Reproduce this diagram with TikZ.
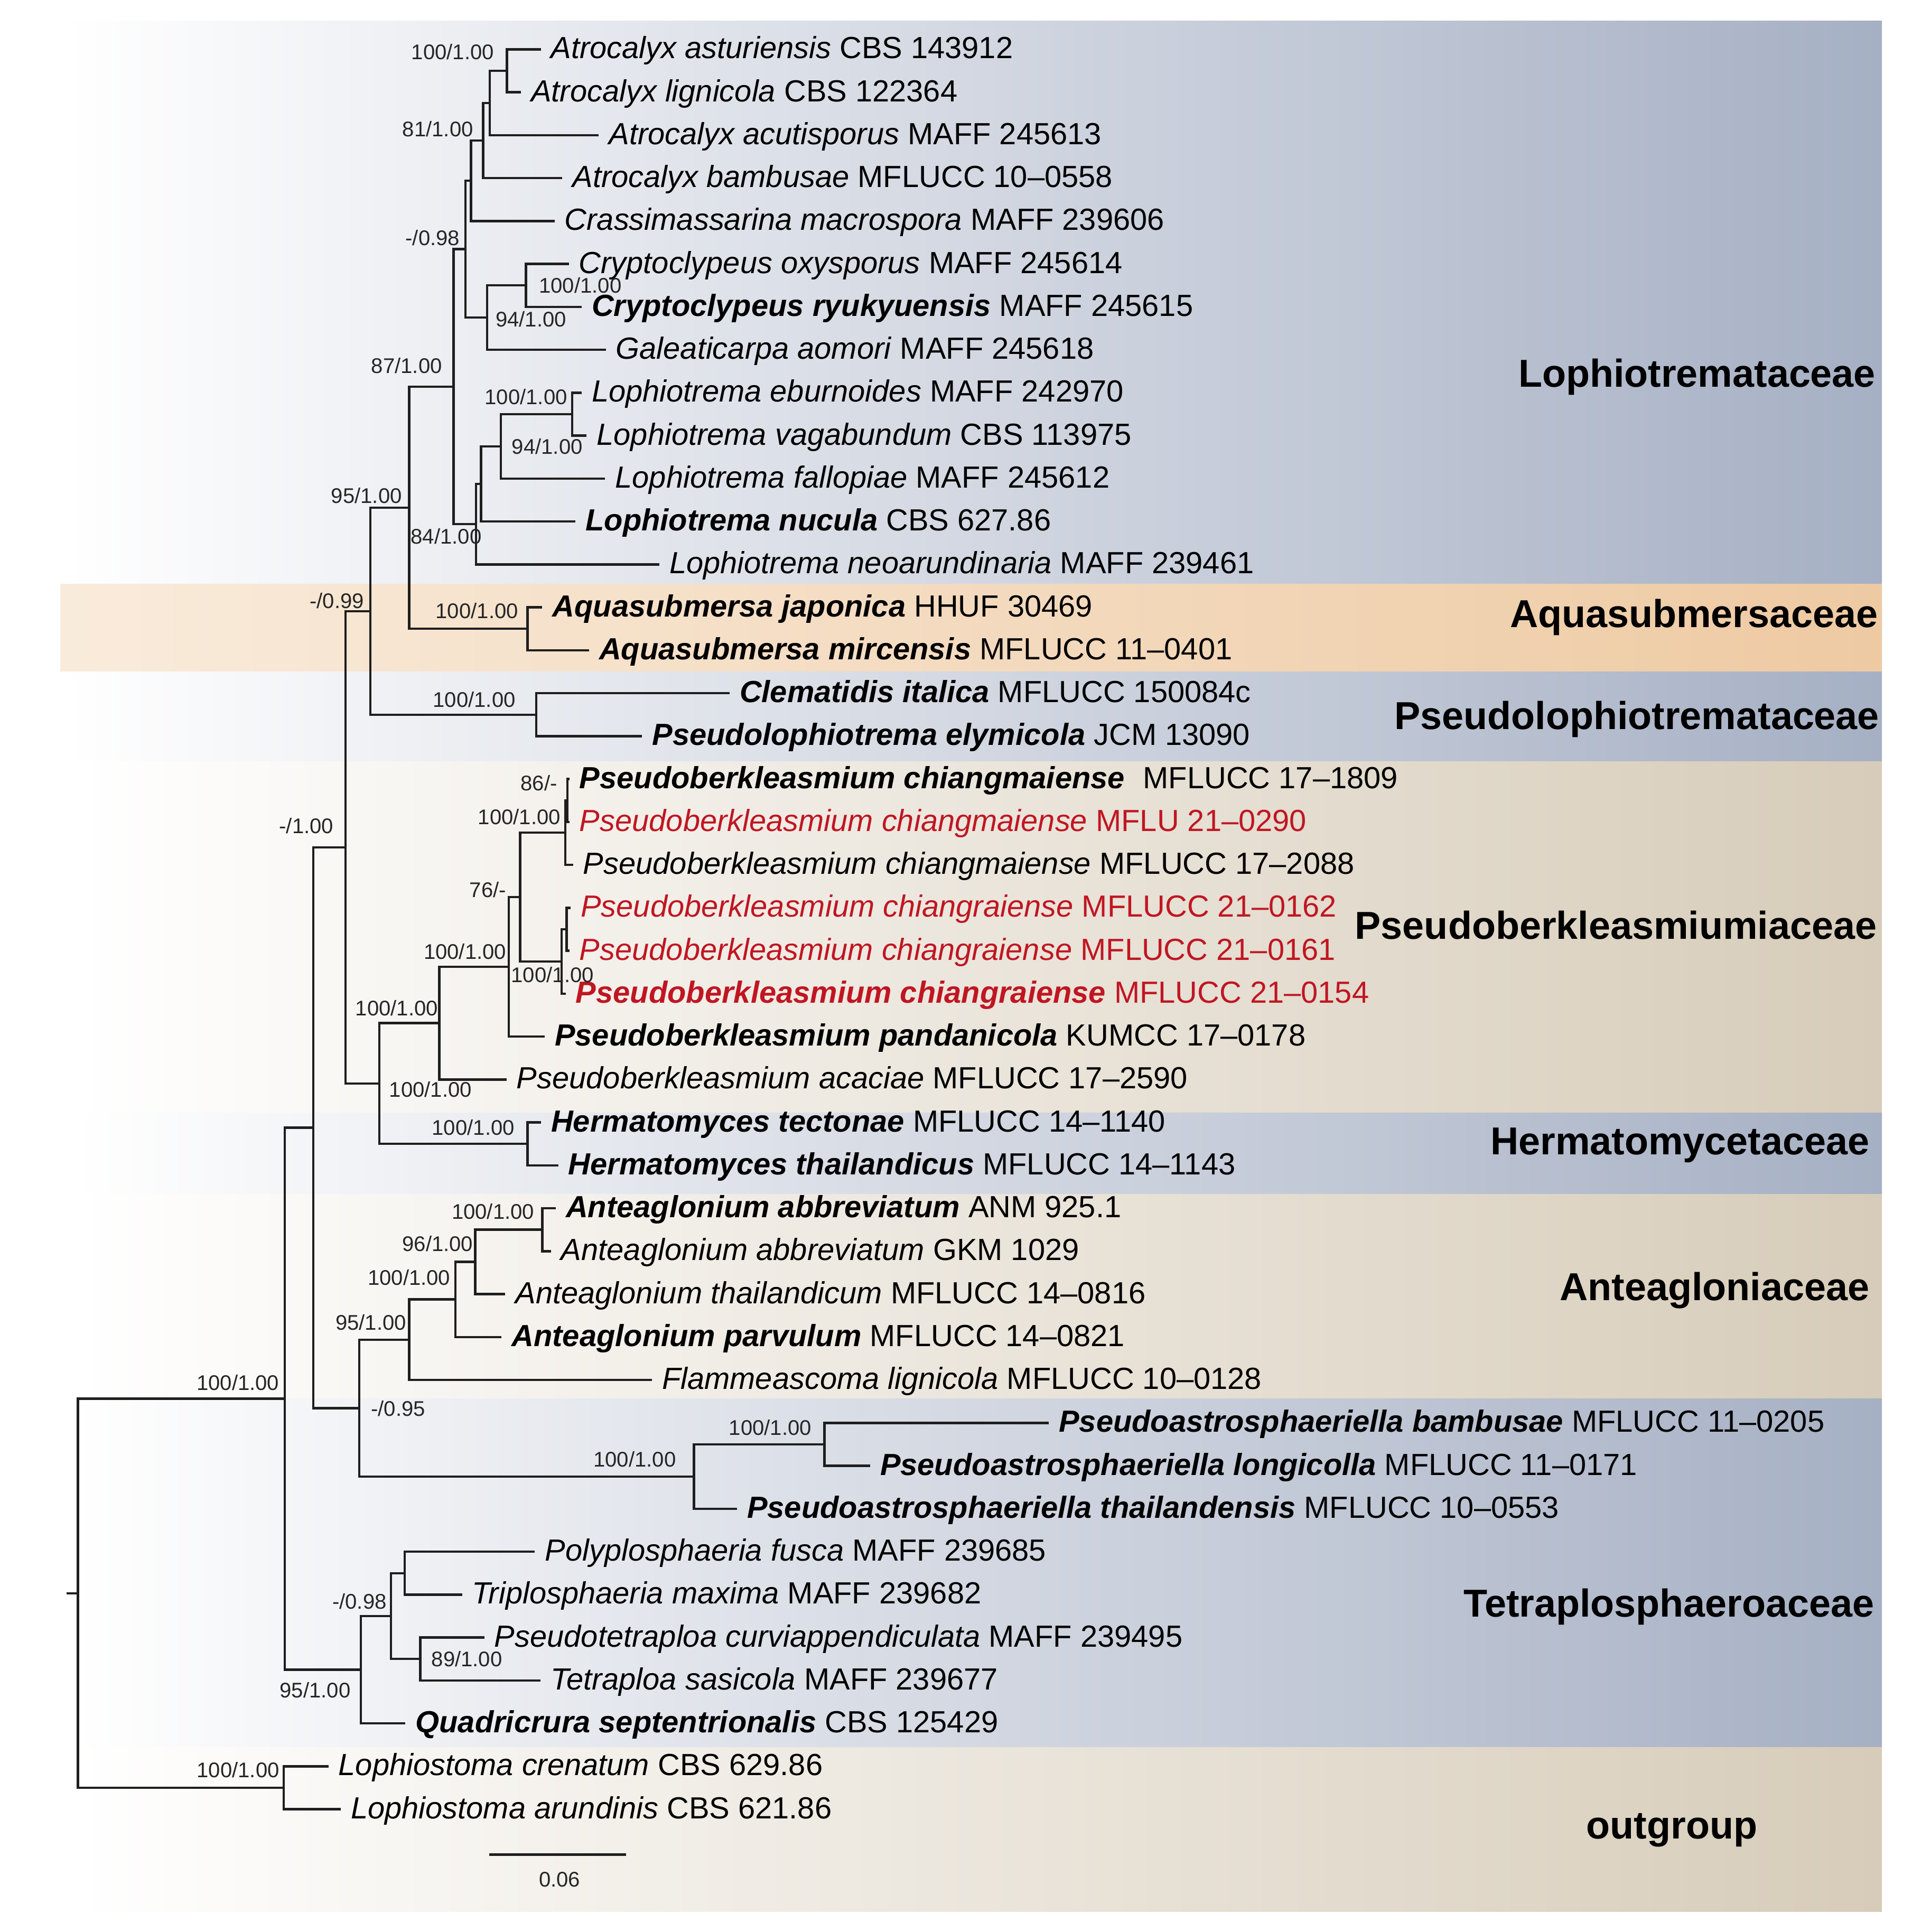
\documentclass[tikz,border=0pt]{standalone}
\usepackage{fontspec}
\setmainfont{Liberation Sans}
\definecolor{bandblue}{RGB}{166,176,196}
\definecolor{bandbeige}{RGB}{215,204,185}
\definecolor{bandorL}{RGB}{249,235,219}
\definecolor{bandorR}{RGB}{238,202,163}
\definecolor{pbred}{RGB}{192,22,34}
\definecolor{brcol}{RGB}{30,30,30}
\newcommand{\mytip}[4]{\coordinate (#1) at (#2,#3); \node[tiplab] (L#1) at ([xshift=8pt,yshift=-7.5pt]#1) {#4};}
\begin{document}
\begin{tikzpicture}[x=1pt,y=-1pt,
  tiplab/.style={font=\fontsize{24.8}{29}\selectfont, inner sep=0pt, anchor=base west, text=black},
  suplab/.style={font=\fontsize{17.2}{20}\selectfont, inner sep=0pt, text=black!85},
  famlab/.style={font=\bfseries\fontsize{31.6}{36}\selectfont, inner sep=0pt, anchor=base east, text=black},
  br/.style={draw=brcol, line width=1.9pt}]
\useasboundingbox (0,0) rectangle (1551,1567.7);
% background bands
\shade[left color=white, right color=bandblue] (50,17) rectangle (1527,474);
\shade[left color=bandorL, right color=bandorR] (49,474) rectangle (1527,545);
\shade[left color=white, right color=bandblue] (50,545) rectangle (1527,618);
\shade[left color=white, right color=bandbeige] (61,618) rectangle (1527,903);
\shade[left color=white, right color=bandblue] (61,903) rectangle (1527,969);
\shade[left color=white, right color=bandbeige] (61,969) rectangle (1527,1135);
\shade[left color=white, right color=bandblue] (61,1135) rectangle (1527,1418);
\shade[left color=white, right color=bandbeige] (61,1418) rectangle (1527,1551);

% tips
\mytip{t1}{438.8}{40.0}{\textit{Atrocalyx asturiensis} CBS 143912}
\mytip{t2}{422.7}{74.83}{\textit{Atrocalyx lignicola} CBS 122364}
\mytip{t3}{485.9}{109.66}{\textit{Atrocalyx acutisporus} MAFF 245613}
\mytip{t4}{456.3}{144.49}{\textit{Atrocalyx bambusae} MFLUCC 10–0558}
\mytip{t5}{450}{179.32}{\textit{Crassimassarina macrospora} MAFF 239606}
\mytip{t6}{461.5}{214.15}{\textit{Cryptoclypeus oxysporus} MAFF 245614}
\mytip{t7}{472}{248.98}{\textbf{\textit{Cryptoclypeus ryukyuensis}} MAFF 245615}
\mytip{t8}{491.5}{283.81}{\textit{Galeaticarpa aomori} MAFF 245618}
\mytip{t9}{472}{318.64}{\textit{Lophiotrema eburnoides} MAFF 242970}
\mytip{t10}{476}{353.47}{\textit{Lophiotrema vagabundum} CBS 113975}
\mytip{t11}{491}{388.30}{\textit{Lophiotrema fallopiae} MAFF 245612}
\mytip{t12}{467}{423.13}{\textbf{\textit{Lophiotrema nucula}} CBS 627.86}
\mytip{t13}{535}{457.96}{\textit{Lophiotrema neoarundinaria} MAFF 239461}
\mytip{t14}{440}{492.79}{\textbf{\textit{Aquasubmersa japonica}} HHUF 30469}
\mytip{t15}{478}{527.62}{\textbf{\textit{Aquasubmersa mircensis}} MFLUCC 11–0401}
\mytip{t16}{592}{562.45}{\textbf{\textit{Clematidis italica}} MFLUCC 150084c}
\mytip{t17}{521}{597.28}{\textbf{\textit{Pseudolophiotrema elymicola}} JCM 13090}
\mytip{t18}{462}{632.11}{\textbf{\textit{Pseudoberkleasmium chiangmaiense}}\hspace{8pt} MFLUCC 17–1809}
\mytip{t19}{462}{666.94}{\color{pbred}\textit{Pseudoberkleasmium chiangmaiense} MFLU 21–0290}
\mytip{t20}{465}{701.77}{\textit{Pseudoberkleasmium chiangmaiense} MFLUCC 17–2088}
\mytip{t21}{463}{736.60}{\color{pbred}\textit{Pseudoberkleasmium chiangraiense} MFLUCC 21–0162}
\mytip{t22}{462}{771.43}{\color{pbred}\textit{Pseudoberkleasmium chiangraiense} MFLUCC 21–0161}
\mytip{t23}{459}{806.26}{\color{pbred}\textbf{\textit{Pseudoberkleasmium chiangraiense}} MFLUCC 21–0154}
\mytip{t24}{442}{841.09}{\textbf{\textit{Pseudoberkleasmium pandanicola}} KUMCC 17–0178}
\mytip{t25}{411}{875.92}{\textit{Pseudoberkleasmium acaciae} MFLUCC 17–2590}
\mytip{t26}{439}{910.75}{\textbf{\textit{Hermatomyces tectonae}} MFLUCC 14–1140}
\mytip{t27}{453}{945.58}{\textbf{\textit{Hermatomyces thailandicus}} MFLUCC 14–1143}
\mytip{t28}{451}{980.41}{\textbf{\textit{Anteaglonium abbreviatum}} ANM 925.1}
\mytip{t29}{447}{1015.24}{\textit{Anteaglonium abbreviatum} GKM 1029}
\mytip{t30}{410}{1050.07}{\textit{Anteaglonium thailandicum} MFLUCC 14–0816}
\mytip{t31}{407}{1084.90}{\textbf{\textit{Anteaglonium parvulum}} MFLUCC 14–0821}
\mytip{t32}{529}{1119.73}{\textit{Flammeascoma lignicola} MFLUCC 10–0128}
\mytip{t33}{851}{1154.56}{\textbf{\textit{Pseudoastrosphaeriella bambusae}} MFLUCC 11–0205}
\mytip{t34}{706}{1189.39}{\textbf{\textit{Pseudoastrosphaeriella longicolla}} MFLUCC 11–0171}
\mytip{t35}{598}{1224.22}{\textbf{\textit{Pseudoastrosphaeriella thailandensis}} MFLUCC 10–0553}
\mytip{t36}{434}{1259.05}{\textit{Polyplosphaeria fusca} MAFF 239685}
\mytip{t37}{375}{1293.88}{\textit{Triplosphaeria maxima} MAFF 239682}
\mytip{t38}{393}{1328.71}{\textit{Pseudotetraploa curviappendiculata} MAFF 239495}
\mytip{t39}{438.5}{1363.54}{\textit{Tetraploa sasicola} MAFF 239677}
\mytip{t40}{329}{1398.37}{\textbf{\textit{Quadricrura septentrionalis}} CBS 125429}
\mytip{t41}{266.5}{1433.20}{\textit{Lophiostoma crenatum} CBS 629.86}
\mytip{t42}{276.5}{1468.03}{\textit{Lophiostoma arundinis} CBS 621.86}

% internal nodes
\coordinate (A) at (411.3,57.4);
\coordinate (B) at (397.3,83.5);
\coordinate (C) at (392.1,114.0);
\coordinate (D) at (382.2,146.7);
\coordinate (F) at (426.8,231.6);
\coordinate (G) at (395.3,257.7);
\coordinate (E) at (377.6,202.2);
\coordinate (Ln) at (464.2,336.1);
\coordinate (K) at (406.3,362.2);
\coordinate (J) at (390.3,392.7);
\coordinate (I) at (386.3,425.3);
\coordinate (H) at (368.1,313.8);
\coordinate (P) at (428,510.2);
\coordinate (M) at (332,412.0);
\coordinate (R) at (435.2,579.9);
\coordinate (N) at (300.5,496.0);
\coordinate (AA) at (460.5,649.5);
\coordinate (Y) at (458.6,675.6);
\coordinate (BB) at (459.7,754.0);
\coordinate (Z) at (455.8,780.1);
\coordinate (X) at (422,727.9);
\coordinate (W) at (412.7,784.5);
\coordinate (V) at (356.5,830.2);
\coordinate (CC) at (428,928.2);
\coordinate (T) at (307.7,879.2);
\coordinate (Q) at (280.4,687.6);
\coordinate (KK) at (440,997.8);
\coordinate (JJ) at (385.6,1023.9);
\coordinate (II) at (369.4,1054.4);
\coordinate (GG) at (332,1087.1);
\coordinate (LL) at (669,1172.0);
\coordinate (HH) at (563,1198.1);
\coordinate (EE) at (291.4,1142.6);
\coordinate (S) at (254.2,915.1);
\coordinate (OO) at (328.3,1276.5);
\coordinate (PP) at (341,1346.1);
\coordinate (NN) at (317.3,1311.3);
\coordinate (FF) at (292.7,1354.8);
\coordinate (DD) at (231,1135.0);
\coordinate (MM) at (230.3,1450.6);
\coordinate (root) at (63.3,1292.8);
\coordinate (stub) at (54,1292.8);

% branches
\draw[br] (A) |- (t1) (A) |- (t2);
\draw[br] (B) |- (A) (B) |- (t3);
\draw[br] (C) |- (B) (C) |- (t4);
\draw[br] (D) |- (C) (D) |- (t5);
\draw[br] (F) |- (t6) (F) |- (t7);
\draw[br] (G) |- (F) (G) |- (t8);
\draw[br] (E) |- (D) (E) |- (G);
\draw[br] (Ln) |- (t9) (Ln) |- (t10);
\draw[br] (K) |- (Ln) (K) |- (t11);
\draw[br] (J) |- (K) (J) |- (t12);
\draw[br] (I) |- (J) (I) |- (t13);
\draw[br] (H) |- (E) (H) |- (I);
\draw[br] (P) |- (t14) (P) |- (t15);
\draw[br] (M) |- (H) (M) |- (P);
\draw[br] (R) |- (t16) (R) |- (t17);
\draw[br] (N) |- (M) (N) |- (R);
\draw[br] (AA) |- (t18) (AA) |- (t19);
\draw[br] (Y) |- (AA) (Y) |- (t20);
\draw[br] (BB) |- (t21) (BB) |- (t22);
\draw[br] (Z) |- (BB) (Z) |- (t23);
\draw[br] (X) |- (Y) (X) |- (Z);
\draw[br] (W) |- (X) (W) |- (t24);
\draw[br] (V) |- (W) (V) |- (t25);
\draw[br] (CC) |- (t26) (CC) |- (t27);
\draw[br] (T) |- (V) (T) |- (CC);
\draw[br] (Q) |- (N) (Q) |- (T);
\draw[br] (KK) |- (t28) (KK) |- (t29);
\draw[br] (JJ) |- (KK) (JJ) |- (t30);
\draw[br] (II) |- (JJ) (II) |- (t31);
\draw[br] (GG) |- (II) (GG) |- (t32);
\draw[br] (LL) |- (t33) (LL) |- (t34);
\draw[br] (HH) |- (LL) (HH) |- (t35);
\draw[br] (EE) |- (GG) (EE) |- (HH);
\draw[br] (S) |- (Q) (S) |- (EE);
\draw[br] (OO) |- (t36) (OO) |- (t37);
\draw[br] (PP) |- (t38) (PP) |- (t39);
\draw[br] (NN) |- (OO) (NN) |- (PP);
\draw[br] (FF) |- (NN) (FF) |- (t40);
\draw[br] (DD) |- (S) (DD) |- (FF);
\draw[br] (MM) |- (t41) (MM) |- (t42);
\draw[br] (root) |- (DD) (root) |- (MM);
\draw[br] (stub) -- (root);

% support values
\node[suplab] (s1) at (367.3,42) {100/1.00};
\node[suplab] (s2) at (355.3,104.7) {81/1.00};
\node[suplab] (s3) at (351,193) {-/0.98};
\node[suplab] (s4) at (470.8,231.5) {100/1.00};
\node[suplab] (s5) at (430.8,259) {94/1.00};
\node[suplab] (s6) at (330,296.7) {87/1.00};
\node[suplab] (s7) at (426.8,322) {100/1.00};
\node[suplab] (s8) at (444,362.5) {94/1.00};
\node[suplab] (s9) at (297.4,402) {95/1.00};
\node[suplab] (s10) at (362,435) {84/1.00};
\node[suplab] (s11) at (273.4,487.4) {-/0.99};
\node[suplab] (s12) at (387,495.8) {100/1.00};
\node[suplab] (s13) at (384.8,567.7) {100/1.00};
\node[suplab] (s14) at (437.3,635.3) {86/-};
\node[suplab] (s15) at (421.3,663) {100/1.00};
\node[suplab] (s16) at (248.6,670) {-/1.00};
\node[suplab] (s17) at (395.8,722) {76/-};
\node[suplab] (s18) at (377.3,772) {100/1.00};
\node[suplab] (s19) at (448.3,791) {100/1.00};
\node[suplab] (s20) at (321.9,818) {100/1.00};
\node[suplab] (s21) at (349.3,884) {100/1.00};
\node[suplab] (s22) at (384,915) {100/1.00};
\node[suplab] (s23) at (400,983) {100/1.00};
\node[suplab] (s24) at (355.1,1009) {96/1.00};
\node[suplab] (s25) at (331.9,1036.8) {100/1.00};
\node[suplab] (s26) at (301,1073) {95/1.00};
\node[suplab] (s27) at (193,1122) {100/1.00};
\node[suplab] (s28) at (323,1143) {-/0.95};
\node[suplab] (s29) at (625,1158.5) {100/1.00};
\node[suplab] (s30) at (515,1184) {100/1.00};
\node[suplab] (s31) at (291.7,1299.6) {-/0.98};
\node[suplab] (s32) at (378.8,1346.3) {89/1.00};
\node[suplab] (s33) at (255.7,1371.3) {95/1.00};
\node[suplab] (s34) at (193.2,1436) {100/1.00};

% family labels
\node[famlab] (f1) at (1522,314) {Lophiotremataceae};
\node[famlab] (f2) at (1524,509) {Aquasubmersaceae};
\node[famlab] (f3) at (1525,592) {Pseudolophiotremataceae};
\node[famlab] (f4) at (1523,762) {Pseudoberkleasmiumiaceae};
\node[famlab] (f5) at (1517,937) {Hermatomycetaceae};
\node[famlab] (f6) at (1517,1055) {Anteagloniaceae};
\node[famlab] (f7) at (1521,1312) {Tetraplosphaeroaceae};
\node[famlab, anchor=base west] (f8) at (1287,1492) {outgroup};

% scale bar
\coordinate (sb1) at (397,1505);
\coordinate (sb2) at (508,1505);
\draw[br, line width=2.3pt] (sb1) -- (sb2);
\node[suplab] (sbl) at (454,1525) {0.06};
\end{tikzpicture}
\end{document}
